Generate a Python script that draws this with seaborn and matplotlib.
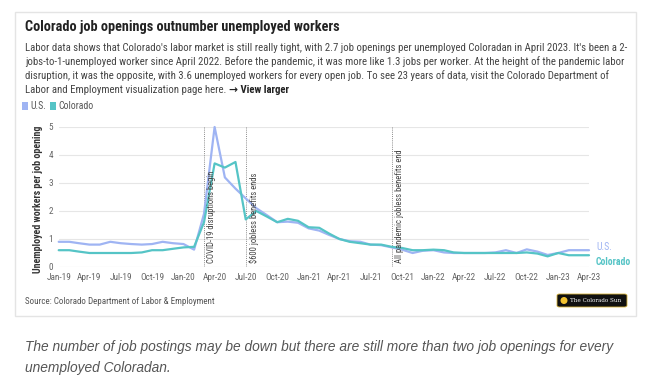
import matplotlib
matplotlib.use("Agg")
import matplotlib.pyplot as plt
import matplotlib.dates as mdates
from matplotlib.patches import Rectangle, FancyBboxPatch, Ellipse
import numpy as np
import pandas as pd
import seaborn as sns

W, H = 655, 386

# monthly values, Jan-19 .. Apr-23
months = pd.date_range("2019-01-01", "2023-04-01", freq="MS")
us = [0.90, 0.90, 0.85, 0.80, 0.80, 0.90, 0.85, 0.82, 0.80, 0.82, 0.90, 0.85,
      0.82, 0.62, 1.90, 5.00, 3.20, 2.80, 2.45, 2.10, 1.85, 1.60, 1.62, 1.58,
      1.38, 1.30, 1.15, 1.00, 0.92, 0.90, 0.80, 0.78, 0.70, 0.62, 0.50, 0.58,
      0.60, 0.52, 0.50, 0.50, 0.50, 0.50, 0.52, 0.60, 0.50, 0.63, 0.55, 0.43,
      0.50, 0.60, 0.60, 0.60]
colorado = [0.60, 0.60, 0.55, 0.50, 0.50, 0.50, 0.50, 0.50, 0.52, 0.60, 0.60, 0.65,
            0.70, 0.72, 1.60, 3.70, 3.55, 3.75, 1.70, 2.00, 1.80, 1.60, 1.72, 1.65,
            1.42, 1.40, 1.20, 1.00, 0.90, 0.85, 0.80, 0.80, 0.72, 0.68, 0.60, 0.60,
            0.62, 0.60, 0.52, 0.50, 0.50, 0.50, 0.50, 0.50, 0.50, 0.52, 0.48, 0.38,
            0.50, 0.42, 0.42, 0.42]
series_names = ["U.S.", "Colorado"]
series_colors = ["#9fb4f3", "#55c4c6"]

events = [("2020-03-01", "COVID-19 disruptions begin"),
          ("2020-07-01", "$600 jobless benefits ends"),
          ("2021-09-01", "All pandemic jobless benefits end")]

df = pd.DataFrame({"month": list(months) * 2,
                   "value": us + colorado,
                   "series": ["U.S."] * len(months) + ["Colorado"] * len(months)})

sns.set_theme(style="white")
plt.rcParams["font.family"] = ["Roboto Condensed", "DejaVu Sans"]


def fx(x):
    return x / W


def fy(y):
    return 1 - y / H


fig = plt.figure(figsize=(W / 100, H / 100), dpi=100)
fig.patches.append(Rectangle((fx(15), fy(316)), fx(636) - fx(15), fy(12) - fy(316),
                             transform=fig.transFigure, facecolor="white",
                             edgecolor="#e4e4e4", lw=1, zorder=-5))

ax = fig.add_axes([fx(58.7), fy(267), fx(589) - fx(58.7), fy(127) - fy(267)])
ax.set_facecolor("none")
ax.set_zorder(2)

sns.lineplot(data=df, x="month", y="value", hue="series", hue_order=series_names,
             palette=series_colors, lw=1.6, legend=False, ax=ax, clip_on=False, zorder=3)
for ln in ax.lines:
    ln.set_solid_joinstyle("round")
    ln.set_solid_capstyle("round")

ax.set_xlim(months[0], months[-1])
ax.set_ylim(0, 5)
ax.set_yticks(range(6))
for v in range(6):
    ax.axhline(v, color="#e6e6e6" if v else "#d0d0d0", lw=0.8, zorder=0)
ax.xaxis.set_major_locator(mdates.MonthLocator(bymonth=[1, 4, 7, 10]))
ax.xaxis.set_major_formatter(mdates.DateFormatter("%b-%y"))
ax.tick_params(axis="x", length=2.5, width=0.6, color="#c8c8c8", pad=2,
               labelsize=6.7, labelcolor="#666666")
ax.tick_params(axis="y", length=0, pad=4, labelsize=6.7, labelcolor="#666666")
for s in ax.spines.values():
    s.set_visible(False)
ax.set_xlabel("")
ax.set_ylabel("Unemployed workers per job opening", fontsize=7.1, weight="bold",
              color="#333333")
ax.yaxis.set_label_coords(-0.03, 0.48)

for d, label in events:
    d = pd.Timestamp(d)
    ax.axvline(d, ymin=0, ymax=1.0, color="#8a8a8a", lw=0.7, ls=(0, (1, 1.2)), zorder=1)
    ax.annotate(label, (d, 0), xytext=(2.5, 3), textcoords="offset points",
                rotation=90, ha="left", va="bottom", fontsize=6.2, color="#444444")

ax.annotate("U.S.", (months[-1], us[-1]), xytext=(5, 2), textcoords="offset points",
            ha="left", va="center", fontsize=7, color=series_colors[0])
ax.annotate("Colorado", (months[-1], colorado[-1]), xytext=(5, -5), textcoords="offset points",
            ha="left", va="center", fontsize=7, weight="bold", color=series_colors[1])

# header
fig.text(fx(25), fy(27), "Colorado job openings outnumber unemployed workers",
         fontsize=10.3, weight="bold", color="#222222", va="center")
sub = ["Labor data shows that Colorado's labor market is still really tight, with 2.7 job openings per unemployed Coloradan in April 2023. It's been a 2-",
       "jobs-to-1-unemployed worker since April 2022. Before the pandemic, it was more like 1.3 jobs per worker. At the height of the pandemic labor",
       "disruption, it was the opposite, with 3.6 unemployed workers for every open job. To see 23 years of data, visit the Colorado Department of"]
for i, line in enumerate(sub):
    fig.text(fx(25), fy(48 + 14 * i), line, fontsize=7.75, color="#444444", va="center")
last = fig.text(fx(25), fy(90), "Labor and Employment visualization page here. ",
                fontsize=7.75, color="#444444", va="center")
r = fig.canvas.get_renderer()
bb = last.get_window_extent(r)
fig.text(bb.x1 / W, fy(90), "\u2192 View larger", fontsize=7.75, weight="bold",
         color="#222222", va="center")

# legend
lx = 22
for name, col in zip(series_names, series_colors):
    fig.patches.append(Rectangle((fx(lx), fy(110)), 6 / W, 8 / H, transform=fig.transFigure,
                                 facecolor=col, edgecolor="none"))
    t = fig.text(fx(lx + 8), fy(106), name, fontsize=7, color="#555555", va="center")
    lx = t.get_window_extent(r).x1 + 4

# footer
fig.text(fx(25), fy(301), "Source: Colorado Department of Labor & Employment",
         fontsize=6.5, color="#555555", va="center")
fig.patches.append(FancyBboxPatch((fx(557), fy(307)), fx(627) - fx(557), fy(294) - fy(307),
                                  boxstyle="round,pad=0,rounding_size=0.004",
                                  transform=fig.transFigure, facecolor="#111111",
                                  edgecolor="#d9b43a", lw=0.6))
fig.patches.append(Ellipse((fx(564), fy(300.5)), 7 / W, 7 / H, transform=fig.transFigure,
                           facecolor="#f2c230", edgecolor="none"))
fig.text(fx(569.5), fy(300.5), "The Colorado Sun", fontsize=4.1, color="white",
         family="DejaVu Serif", va="center")

cap = ["The number of job postings may be down but there are still more than two job openings for every",
       "unemployed Coloradan."]
for i, line in enumerate(cap):
    fig.text(fx(25), fy(347 + 21 * i), line, fontsize=9.9, style="italic",
             family=["Liberation Sans", "DejaVu Sans"], color="#555555", va="center")

fig.savefig("out.png", dpi=100)
